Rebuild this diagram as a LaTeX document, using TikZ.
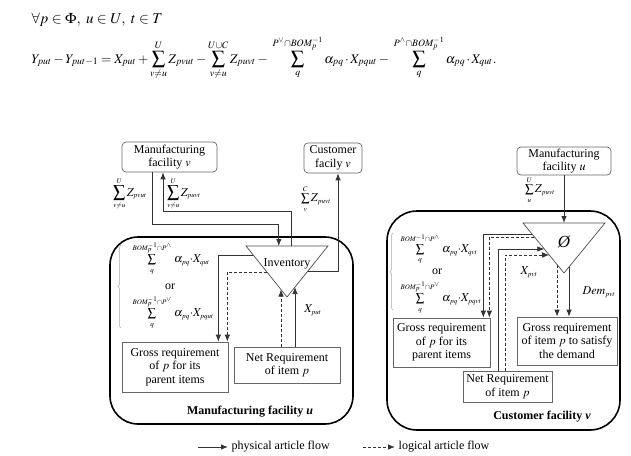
\documentclass[tikz,border=0pt]{standalone}
\usepackage{amsmath}
\usepackage{mathptmx}
\usepackage{fontspec}
\setmainfont{Liberation Serif}
\usetikzlibrary{arrows.meta,calc,decorations.pathreplacing}

\newcommand\tny[1]{{\scriptscriptstyle #1}}

\begin{document}
\begin{tikzpicture}[x=1pt,y=-1pt,
		every node/.style={font=\fontsize{12}{13.5}\selectfont},
		facility/.style={draw=black!60, line width=0.7pt, rounded corners=4pt,
			align=center, inner sep=1pt},
		reqbox/.style={draw=black!60, line width=0.7pt, align=center, inner sep=1pt},
		plant/.style={line width=1.6pt, rounded corners=28pt},
		tri/.style={draw=black!70, line width=0.7pt},
		flow/.style={draw=black!80, line width=0.8pt, -{Latex[length=7pt,width=5.5pt]}},
		logic/.style={flow, dash pattern=on 3pt off 2pt},
		bomBrace/.style={decorate, decoration={brace, amplitude=3pt}, draw=black!35, line width=0.5pt}]
		\useasboundingbox (0,0) rectangle (631,455);

		% The balance equation for item p at facility u.
		\node[anchor=base west, font=\fontsize{15}{17}\selectfont] (quant) at (28,23)
			{$\forall p\in\Phi,\ u\in U,\ t\in T$};
		\node[anchor=base west, font=\fontsize{13.2}{15}\selectfont] (balance) at (28,63)
			{$\displaystyle Y_{put}-Y_{put-1}=X_{put}+\sum_{v\neq u}^{U}Z_{pvut}
			-\sum_{v\neq u}^{U\cup C}Z_{puvt}
			-\;\sum_{q}^{P^{\vee}\cap BOM_p^{-1}}\alpha_{pq}\,{\cdot}\,X_{pqut}
			-\;\sum_{q}^{P^{\wedge}\cap BOM_p^{-1}}\alpha_{pq}\,{\cdot}\,X_{qut}.$};

		% Left part: the manufacturing facility u and its neighbours.
		\node[facility, minimum width=95pt, minimum height=30pt] (mfgV) at (169.5,157)
			{Manufacturing\\facility $v$};
		\node[facility, minimum width=58pt, minimum height=30pt] (custV) at (333,158)
			{Customer\\facily $v$};
		\draw[plant] (110,237) rectangle (353,424);

		\coordinate (invL) at (246,246);
		\coordinate (invR) at (328,246);
		\coordinate (invB) at (287,297);
		\draw[tri] (invL) -- (invR) -- (invB) -- cycle;
		\node (inv) at (287,264) {Inventory};

		\node[reqbox, minimum width=106pt, minimum height=50pt] (grossL) at (175,367)
			{Gross requirement\\of $p$ for its\\parent items};
		\node[reqbox, minimum width=106pt, minimum height=36pt] (netL) at (287,365)
			{Net Requirement\\of item $p$};

		% Points on the edges of the inventory triangle.
		\coordinate (invIn) at ($(invL)!0.40!(invR)$);
		\coordinate (invOut) at ($(invL)!0.55!(invR)$);
		\coordinate (invC) at ($(invR)!0.49!(invB)$);
		\coordinate (invG) at ($(invL)!0.18!(invB)$);
		\coordinate (invGd) at ($(invL)!0.51!(invB)$);
		\coordinate (invN) at ($(invL)!0.854!(invB)$);
		\coordinate (invNs) at ($(invR)!0.805!(invB)$);

		\draw[flow] ([xshift=-17.5pt]mfgV.south) |- ([yshift=22pt]invIn) -- (invIn);
		\draw[flow] (invOut) -- ++(0,-35) -| ([xshift=-6.5pt]mfgV.south);
		\draw[flow] (invC) -| ([xshift=5pt]custV.south);
		\draw[flow] (invG) -| ([xshift=-10pt]grossL.north east);
		\draw[logic] (invGd) -| ([xshift=-1pt]grossL.north east);
		\draw[logic] (netL.north -| invN) -- (invN);
		\draw[flow] (netL.north -| invNs) -- (invNs);

		\node (zIn) at (130,194)
			{$\displaystyle\sum_{\tny{v\neq u}}^{\tny{U}}Z_{\tny{pvut}}$};
		\node (zOut) at (184,194)
			{$\displaystyle\sum_{\tny{v\neq u}}^{\tny{U}}Z_{\tny{puvt}}$};
		\node (zCust) at (316,199)
			{$\sum\limits_{\tny{v}}^{\tny{C}}Z_{\tny{puvt}}$};
		\node (xPut) at (313,310) {$X_{\tny{put}}$};

		\node[anchor=west] (bomA) at (129,258)
			{$\sum\limits_{\tny{q}}^{\tny{BOM_p^{-1}\cap P^{\wedge}}}\,\alpha_{\tny{pq}}{\cdot}X_{\tny{qut}}$};
		\node (orL) at (170,287) {or};
		\node[anchor=west] (bomB) at (129,312)
			{$\sum\limits_{\tny{q}}^{\tny{BOM_p^{-1}\cap P^{\vee}}}\,\alpha_{\tny{pq}}{\cdot}X_{\tny{pqut}}$};
		\draw[bomBrace] (121,328) -- (121,245);

		\node[font=\fontsize{12}{13.5}\selectfont\bfseries] (plantU) at (250,412)
			{Manufacturing facility \textit{u}};

		% Right part: the customer facility v.
		\node[facility, minimum width=94pt, minimum height=28pt] (mfgU) at (564,161)
			{Manufacturing\\facility $u$};
		\draw[plant, rounded corners=30pt] (387,211) rectangle (620,430);

		\coordinate (demL) at (523,223);
		\coordinate (demR) at (605,223);
		\coordinate (demB) at (564,273);
		\draw[tri] (demL) -- (demR) -- (demB) -- cycle;
		\node[font=\fontsize{17}{17}\selectfont\itshape] (dem) at (564,242) {Ø};

		\node[reqbox, minimum width=97pt, minimum height=49pt] (grossC) at (441.5,342.5)
			{Gross requirement\\of $p$ for its\\parent items};
		\node[reqbox, minimum width=100pt, minimum height=48pt] (demand) at (567,341)
			{Gross requirement\\of item $p$ to satisfy\\the demand};
		\node[reqbox, minimum width=89pt, minimum height=31pt] (netC) at (507.5,386.5)
			{Net Requirement\\of item $p$};

		\coordinate (demTop) at ($(demL)!0.5!(demR)$);
		\coordinate (demG) at ($(demL)!0.22!(demB)$);
		\coordinate (demGd) at ($(demL)!0.28!(demB)$);
		\coordinate (demN) at ($(demL)!0.52!(demB)$);
		\coordinate (demNd) at ($(demL)!0.64!(demB)$);
		\coordinate (demD) at ($(demL)!0.83!(demB)$);
		\coordinate (demS) at ($(demR)!0.878!(demB)$);

		\draw[flow] (mfgU.south) -- (demTop);
		\draw[flow] (demG) -| ([xshift=-7pt]grossC.north east);
		\draw[logic] (demGd) -| ([xshift=-1pt]grossC.north east);
		\draw[flow] ([xshift=-9.5pt]netC.north) |- (demN);
		\draw[logic] ([xshift=-2.5pt]netC.north) |- (demNd);
		\draw[logic] (demD) -- (demand.north -| demD);
		\draw[flow] (demS) -- (demand.north -| demS);

		\node (zU) at (540,190) {$\sum\limits_{\tny{u}}^{\tny{U}}Z_{\tny{puvt}}$};
		\node (xPvt) at (529,272) {$X_{\tny{pvt}}$};
		\node (demPvt) at (599,292) {$Dem_{\tny{pvt}}$};

		\node[anchor=west] (bomC) at (397,249)
			{$\sum\limits_{\tny{q}}^{\tny{BOM^{-1}\cap P^{\wedge}}}\,\alpha_{\tny{pq}}{\cdot}X_{\tny{qvt}}$};
		\node (orC) at (437,272) {or};
		\node[anchor=west] (bomD) at (397,297)
			{$\sum\limits_{\tny{q}}^{\tny{BOM_p^{-1}\cap P^{\vee}}}\,\alpha_{\tny{pq}}{\cdot}X_{\tny{pqvt}}$};
		\draw[bomBrace] (393,310) -- (393,233);

		\node[font=\fontsize{12}{13.5}\selectfont\bfseries] (plantV) at (542,417)
			{Customer facility \textit{v}};

		% Legend.
		\coordinate (phyA) at (198,447);
		\coordinate (phyB) at (228,447);
		\coordinate (logA) at (363,447);
		\coordinate (logB) at (395,447);
		\draw[flow] (phyA) -- (phyB) node[right] (phyTxt) {physical article flow};
		\draw[logic] (logA) -- (logB) node[right] (logTxt) {logical article flow};
	\end{tikzpicture}
\end{document}
